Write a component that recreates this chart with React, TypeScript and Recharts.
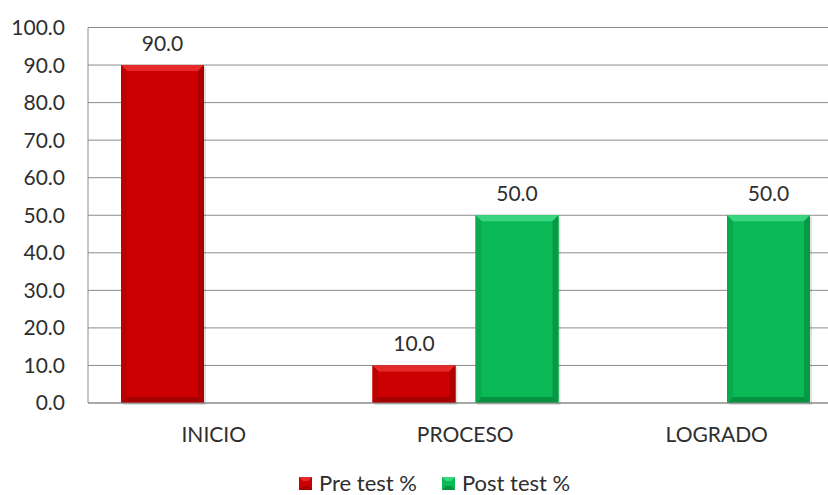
import React from "react";
import { BarChart, Bar, XAxis, YAxis, CartesianGrid, Legend, LabelList } from "recharts";

const categories = ["INICIO", "PROCESO", "LOGRADO"];
const preTest = [90.0, 10.0, 0.0];
const postTest = [0.0, 50.0, 50.0];
const yTicks = [0, 10, 20, 30, 40, 50, 60, 70, 80, 90, 100];

const chartData = categories.map((name, i) => ({
  name,
  pre: preTest[i],
  post: postTest[i],
}));

const FONT = "Lato, 'DejaVu Sans', sans-serif";
const TEXT = "#2e2e2e";

const palettes: Record<string, { base: string; top: string; left: string; right: string; bottom: string }> = {
  red: { base: "#cc0000", top: "#e62a2a", left: "#bd0000", right: "#ad0000", bottom: "#a60000" },
  green: { base: "#0bba57", top: "#3ad67f", left: "#09aa4e", right: "#079a45", bottom: "#069241" },
};

const BevelBar = (props: any) => {
  const { x, y, width: w, height: h, tone } = props;
  if (!h || h <= 0) return null;
  const p = palettes[tone];
  const b = Math.min(6, h / 2, w / 2);
  return (
    <g>
      <rect x={x + 2} y={y + 2} width={w} height={h} fill="#000" opacity={0.12} />
      <rect x={x} y={y} width={w} height={h} fill={p.base} />
      <polygon points={`${x},${y} ${x + w},${y} ${x + w - b},${y + b} ${x + b},${y + b}`} fill={p.top} />
      <polygon points={`${x},${y} ${x + b},${y + b} ${x + b},${y + h - b} ${x},${y + h}`} fill={p.left} />
      <polygon points={`${x + w},${y} ${x + w - b},${y + b} ${x + w - b},${y + h - b} ${x + w},${y + h}`} fill={p.right} />
      <polygon points={`${x},${y + h} ${x + b},${y + h - b} ${x + w - b},${y + h - b} ${x + w},${y + h}`} fill={p.bottom} />
    </g>
  );
};

const LegendSwatch = ({ tone }: { tone: string }) => {
  const p = palettes[tone];
  return (
    <svg width={13} height={13} style={{ marginRight: 7 }}>
      <rect x={0} y={0} width={13} height={13} fill={p.base} />
      <polygon points="0,0 13,0 9,4 4,4" fill={p.top} />
      <polygon points="0,13 4,9 9,9 13,13" fill={p.bottom} />
    </svg>
  );
};

const renderLegend = () => (
  <div
    style={{
      display: "flex",
      alignItems: "center",
      fontFamily: FONT,
      fontSize: 22,
      lineHeight: "22px",
      color: TEXT,
      whiteSpace: "nowrap",
    }}
  >
    <span style={{ display: "flex", alignItems: "center", marginRight: 25 }}>
      <LegendSwatch tone="red" />
      Pre test %
    </span>
    <span style={{ display: "flex", alignItems: "center" }}>
      <LegendSwatch tone="green" />
      Post test %
    </span>
  </div>
);

const labelFormat = (v: any) => (Number(v) > 0 ? Number(v).toFixed(1) : "");

export default function App() {
  return (
    <div style={{ position: "absolute", left: 0, top: 0, width: 828, height: 495, overflow: "hidden", background: "#fff" }}>
      <BarChart
        width={828}
        height={495}
        data={chartData}
        margin={{ top: 27.5, right: -14.5, left: 0, bottom: 62 }}
        barGap={20}
        barSize={83}
      >
        <CartesianGrid stroke="#8c8c8c" vertical={false} />
        <XAxis
          dataKey="name"
          tick={{ fontSize: 21, fill: TEXT, fontFamily: FONT }}
          axisLine={{ stroke: "#8c8c8c" }}
          tickLine={false}
          tickSize={6}
          tickMargin={18}
          height={30}
        />
        <YAxis
          domain={[0, 100]}
          ticks={yTicks}
          tickFormatter={(v) => Number(v).toFixed(1)}
          tick={{ fontSize: 21, fill: TEXT, fontFamily: FONT }}
          axisLine={{ stroke: "#8c8c8c" }}
          tickLine={false}
          tickSize={6}
          tickMargin={17}
          width={88}
          interval={0}
        />
        <Legend
          layout="horizontal"
          verticalAlign="middle"
          content={renderLegend}
          wrapperStyle={{ left: 299, top: 472, width: 320 }}
        />
        <Bar dataKey="pre" name="Pre test %" isAnimationActive={false} shape={(p: any) => <BevelBar {...p} tone="red" />}>
          <LabelList dataKey="pre" position="top" offset={14} formatter={labelFormat} style={{ fontSize: 21, fill: TEXT, fontFamily: FONT }} />
        </Bar>
        <Bar dataKey="post" name="Post test %" isAnimationActive={false} shape={(p: any) => <BevelBar {...p} tone="green" />}>
          <LabelList dataKey="post" position="top" offset={14} formatter={labelFormat} style={{ fontSize: 21, fill: TEXT, fontFamily: FONT }} />
        </Bar>
      </BarChart>
    </div>
  );
}
